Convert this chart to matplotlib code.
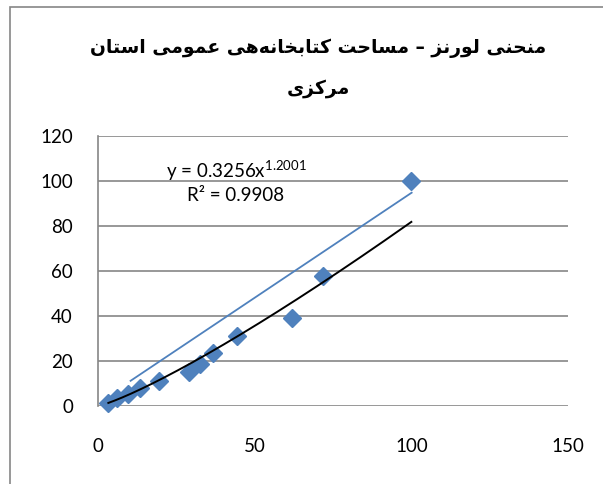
import numpy as np
import matplotlib
matplotlib.use("Agg")
import matplotlib.pyplot as plt
from matplotlib.patches import Rectangle

# data
area_share = [3.3, 6.0, 9.7, 13.4, 19.5, 29.0, 32.6, 36.8, 44.3, 62.0, 71.7, 100.0]
lib_share = [1.2, 3.4, 5.3, 7.9, 11.1, 15.3, 18.6, 23.4, 31.0, 39.2, 57.8, 100.0]
ref_line_x = [10.4, 100.1]
ref_line_y = [11.2, 94.8]
trend_a = 0.3256
trend_b = 1.2001
title_lines = ["منحنی لورنز – مساحت کتابخانه\u200cهی عمومی استان", "مرکزی"]
x_ticks = [0, 50, 100, 150]
y_ticks = [0, 20, 40, 60, 80, 100, 120]

# arabic presentation forms: iso, fin, ini, med
FORMS = {
    'ا': ('\uFE8D', '\uFE8E', '\uFE8D', '\uFE8E'),
    'ب': ('\uFE8F', '\uFE90', '\uFE91', '\uFE92'),
    'ت': ('\uFE95', '\uFE96', '\uFE97', '\uFE98'),
    'ح': ('\uFEA1', '\uFEA2', '\uFEA3', '\uFEA4'),
    'خ': ('\uFEA5', '\uFEA6', '\uFEA7', '\uFEA8'),
    'ر': ('\uFEAD', '\uFEAE', '\uFEAD', '\uFEAE'),
    'ز': ('\uFEAF', '\uFEB0', '\uFEAF', '\uFEB0'),
    'س': ('\uFEB1', '\uFEB2', '\uFEB3', '\uFEB4'),
    'ع': ('\uFEC9', '\uFECA', '\uFECB', '\uFECC'),
    'ل': ('\uFEDD', '\uFEDE', '\uFEDF', '\uFEE0'),
    'م': ('\uFEE1', '\uFEE2', '\uFEE3', '\uFEE4'),
    'ن': ('\uFEE5', '\uFEE6', '\uFEE7', '\uFEE8'),
    'ه': ('\uFEE9', '\uFEEA', '\uFEEB', '\uFEEC'),
    'و': ('\uFEED', '\uFEEE', '\uFEED', '\uFEEE'),
    'ک': ('\uFB8E', '\uFB8F', '\uFB90', '\uFB91'),
    'ی': ('\uFBFC', '\uFBFD', '\uFBFE', '\uFBFF'),
}
RIGHT_ONLY = set('ارزو')


def shape_rtl(text):
    """join letters and put them in visual (left to right) order"""
    out = []
    for i, c in enumerate(text):
        if c not in FORMS:
            out.append(c)
            continue
        prev = text[i - 1] if i > 0 else ''
        nxt = text[i + 1] if i + 1 < len(text) else ''
        to_prev = prev in FORMS and prev not in RIGHT_ONLY
        to_next = nxt in FORMS and c not in RIGHT_ONLY
        if to_prev and to_next:
            out.append(FORMS[c][3])
        elif to_prev:
            out.append(FORMS[c][1])
        elif to_next:
            out.append(FORMS[c][2])
        else:
            out.append(FORMS[c][0])
    return ''.join(reversed(out)).replace('\u200c', '')


blue = '#4F81BD'
grid_gray = '#868686'

fig = plt.figure(figsize=(6.03, 4.84), dpi=100)
ax = fig.add_axes([98 / 603, 78 / 484, 470 / 603, 270 / 484])

# chart frame
fig.patches.append(Rectangle((10 / 603, -0.1), 2.0, 1.1 - 7 / 484, transform=fig.transFigure,
                             fill=False, edgecolor=grid_gray, linewidth=1.2))

ax.set_xlim(0, 150)
ax.set_ylim(0, 120)
ax.set_xticks(x_ticks)
ax.set_yticks(y_ticks)
ax.grid(axis='y', color=grid_gray, linewidth=1.2)
ax.set_axisbelow(True)
for side in ['top', 'right', 'bottom']:
    ax.spines[side].set_visible(False)
ax.spines['left'].set_color(grid_gray)
ax.spines['left'].set_linewidth(1.2)
ax.tick_params(length=0, labelsize=13.5, labelcolor='black')
ax.tick_params(axis='x', pad=23)
ax.tick_params(axis='y', pad=18)
for lab in ax.get_xticklabels() + ax.get_yticklabels():
    lab.set_family('Lato')

ax.plot(ref_line_x, ref_line_y, color=blue, linewidth=1.3, zorder=2)
ax.plot(area_share, lib_share, linestyle='none', marker='D', markersize=9.5,
        color=blue, zorder=3, clip_on=False)

xs = np.linspace(min(area_share), max(area_share), 200)
ax.plot(xs, trend_a * xs ** trend_b, color='black', linewidth=1.4, zorder=4)

ax.text(44, 104.5, r'y = %.4fx$^{\mathregular{%.4f}}$' % (trend_a, trend_b),
        ha='center', va='center', fontsize=13.5, family='Lato')
ax.text(44, 93.5, 'R² = 0.9908', ha='center', va='center', fontsize=13.5, family='Lato')

fig.text(318 / 603, 1 - 48 / 484, shape_rtl(title_lines[0]), ha='center', va='center',
         fontsize=13.5, fontweight='bold', family='DejaVu Sans')
fig.text(318 / 603, 1 - 88 / 484, shape_rtl(title_lines[1]), ha='center', va='center',
         fontsize=13.5, fontweight='bold', family='DejaVu Sans')

fig.savefig('out.png', dpi=100)
